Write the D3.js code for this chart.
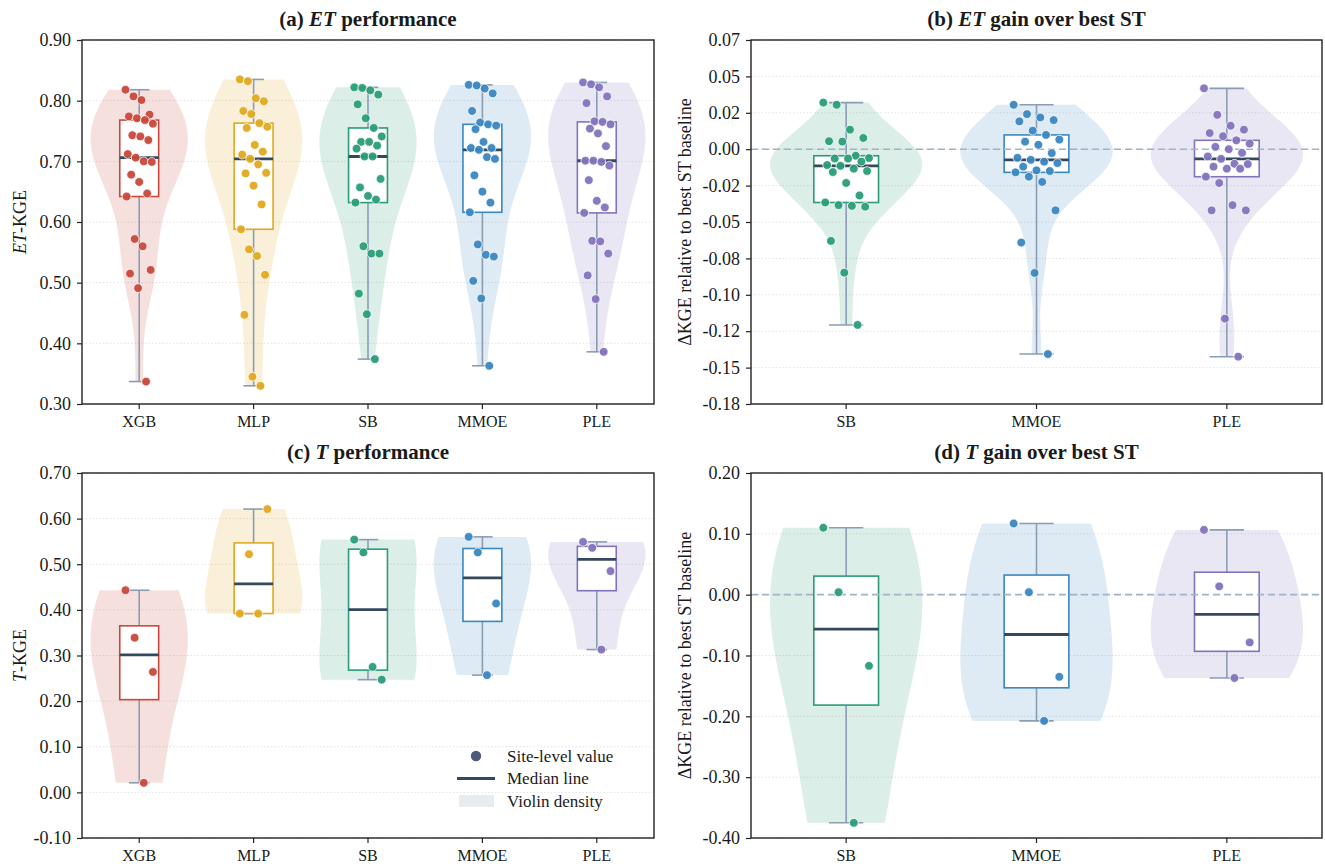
<!DOCTYPE html>
<html>
<head>
<meta charset="utf-8">
<title>ET / T KGE violins</title>
<style>
  body { margin: 0; background: #fff; }
  text { font-family: "Liberation Serif", "Times New Roman", serif; fill: #1a1a1a; }
</style>
</head>
<body>
<script src="https://cdn.jsdelivr.net/npm/d3@7"></script>
<script>
// ---------- data ----------
var models5 = ["XGB", "MLP", "SB", "MMOE", "PLE"];
var models3 = ["SB", "MMOE", "PLE"];
var modelColors = {XGB: "#c9483b", MLP: "#e1a91f", SB: "#2a9d78", MMOE: "#3a87c1", PLE: "#8373bd"};

// (a) ET-KGE, site-level
var etKgeXGB  = [0.818, 0.807, 0.801, 0.777, 0.774, 0.771, 0.768, 0.762, 0.743, 0.741, 0.735, 0.712, 0.706, 0.700, 0.699, 0.678, 0.666, 0.647, 0.642, 0.572, 0.560, 0.521, 0.515, 0.491, 0.337];
var etKgeMLP  = [0.835, 0.832, 0.804, 0.799, 0.783, 0.778, 0.763, 0.757, 0.755, 0.727, 0.716, 0.711, 0.704, 0.695, 0.681, 0.680, 0.660, 0.629, 0.588, 0.555, 0.544, 0.513, 0.447, 0.345, 0.330];
var etKgeSB   = [0.822, 0.821, 0.817, 0.810, 0.794, 0.771, 0.755, 0.741, 0.732, 0.732, 0.726, 0.721, 0.708, 0.708, 0.671, 0.657, 0.643, 0.637, 0.632, 0.560, 0.548, 0.548, 0.482, 0.448, 0.374];
var etKgeMMOE = [0.826, 0.825, 0.820, 0.812, 0.783, 0.764, 0.761, 0.759, 0.753, 0.732, 0.722, 0.722, 0.719, 0.707, 0.704, 0.677, 0.650, 0.632, 0.616, 0.563, 0.546, 0.543, 0.503, 0.474, 0.363];
var etKgePLE  = [0.830, 0.827, 0.822, 0.807, 0.796, 0.766, 0.765, 0.761, 0.754, 0.746, 0.725, 0.701, 0.701, 0.699, 0.693, 0.669, 0.635, 0.624, 0.615, 0.569, 0.568, 0.548, 0.512, 0.473, 0.386];

// (b) ET gain over best ST
var etGainSB   = [0.0320, 0.0305, 0.0134, 0.0077, 0.0055, 0.0052, -0.0045, -0.0061, -0.0064, -0.0064, -0.0085, -0.0109, -0.0114, -0.0134, -0.0150, -0.0157, -0.0232, -0.0318, -0.0366, -0.0384, -0.0389, -0.0395, -0.0630, -0.0848, -0.1207];
var etGainMMOE = [0.0305, 0.0241, 0.0218, 0.0200, 0.0191, 0.0127, 0.0098, 0.0066, 0.0052, 0.0030, -0.0027, -0.0059, -0.0073, -0.0086, -0.0095, -0.0120, -0.0145, -0.0150, -0.0159, -0.0189, -0.0225, -0.0420, -0.0641, -0.0850, -0.1407];
var etGainPLE  = [0.0418, 0.0236, 0.0161, 0.0134, 0.0111, 0.0089, 0.0061, 0.0039, 0.0016, 0.0000, -0.0025, -0.0050, -0.0066, -0.0100, -0.0102, -0.0120, -0.0134, -0.0134, -0.0189, -0.0232, -0.0384, -0.0420, -0.0420, -0.1164, -0.1425];

// (c) T-KGE, site-level
var tKgeXGB  = [0.443, 0.264, 0.021, 0.339];
var tKgeMLP  = [0.392, 0.621, 0.392, 0.522];
var tKgeSB   = [0.554, 0.247, 0.275, 0.526];
var tKgeMMOE = [0.560, 0.414, 0.257, 0.526];
var tKgePLE  = [0.549, 0.485, 0.313, 0.536];

// (d) T gain over best ST
var tGainSB   = [0.110, -0.117, -0.375, 0.004];
var tGainMMOE = [0.117, -0.135, -0.2075, 0.004];
var tGainPLE  = [0.1065, -0.0785, -0.137, 0.0137];

// ticks
var etKgeTicks = [0.30, 0.40, 0.50, 0.60, 0.70, 0.80, 0.90];
var etKgeTickLabels = ["0.30", "0.40", "0.50", "0.60", "0.70", "0.80", "0.90"];
var etGainTicks = [-0.175, -0.15, -0.125, -0.10, -0.075, -0.05, -0.025, 0, 0.025, 0.05, 0.075];
var etGainTickLabels = ["-0.18", "-0.15", "-0.12", "-0.10", "-0.08", "-0.05", "-0.02", "0.00", "0.02", "0.05", "0.07"];
var tKgeTicks = [-0.10, 0.00, 0.10, 0.20, 0.30, 0.40, 0.50, 0.60, 0.70];
var tKgeTickLabels = ["-0.10", "0.00", "0.10", "0.20", "0.30", "0.40", "0.50", "0.60", "0.70"];
var tGainTicks = [-0.40, -0.30, -0.20, -0.10, 0.00, 0.10, 0.20];
var tGainTickLabels = ["-0.40", "-0.30", "-0.20", "-0.10", "0.00", "0.10", "0.20"];

var gainLabel = [["\u0394KGE relative to best ST baseline", false]];

var panels = [
	{title: [["(a) ", false], ["ET", true], [" performance", false]], ylab: [["ET", true], ["-KGE", false]],
	 left: 82, right: 654, top: 40, bottom: 404, cats: models5,
	 series: [etKgeXGB, etKgeMLP, etKgeSB, etKgeMMOE, etKgePLE],
	 ticks: etKgeTicks, tickLabels: etKgeTickLabels, zero: false, vw: 0.85, ylx: 26},
	{title: [["(b) ", false], ["ET", true], [" gain over best ST", false]], ylab: gainLabel,
	 left: 751, right: 1322, top: 40, bottom: 404, cats: models3,
	 series: [etGainSB, etGainMMOE, etGainPLE],
	 ticks: etGainTicks, tickLabels: etGainTickLabels, zero: true, vw: 0.8, ylx: 691},
	{title: [["(c) ", false], ["T", true], [" performance", false]], ylab: [["T", true], ["-KGE", false]],
	 left: 82, right: 654, top: 473, bottom: 838, cats: models5,
	 series: [tKgeXGB, tKgeMLP, tKgeSB, tKgeMMOE, tKgePLE],
	 ticks: tKgeTicks, tickLabels: tKgeTickLabels, zero: false, vw: 0.85, ylx: 26, legend: true},
	{title: [["(d) ", false], ["T", true], [" gain over best ST", false]], ylab: gainLabel,
	 left: 751, right: 1322, top: 473, bottom: 838, cats: models3,
	 series: [tGainSB, tGainMMOE, tGainPLE],
	 ticks: tGainTicks, tickLabels: tGainTickLabels, zero: true, vw: 0.8, ylx: 691}
];

// ---------- helpers ----------
function kde(values, n) {
	var sd = d3.deviation(values);
	var bw = sd * Math.pow(values.length, -0.2); // scott
	var ext = d3.extent(values);
	return d3.range(n).map(function(i) {
		var v = ext[0] + (ext[1] - ext[0]) * i / (n - 1);
		return [v, d3.sum(values, function(s) { return Math.exp(-0.5 * Math.pow((v - s) / bw, 2)); })];
	});
}

function rich(sel, parts) {
	parts.forEach(function(p) {
		sel.append("tspan").attr("font-style", p[1] ? "italic" : null).text(p[0]);
	});
}

var svg = d3.select("body").append("svg").attr("width", 1325).attr("height", 866);

var whiskerColor = "#8a9db3";
var medianColor = "#34495e";

panels.forEach(function(p) {
	var g = svg.append("g");
	var x = d3.scaleBand().domain(p.cats).range([p.left, p.right]);
	var y = d3.scaleLinear().domain(d3.extent(p.ticks)).range([p.bottom, p.top]);
	var bw = x.bandwidth();

	// grid
	g.selectAll("line.grid").data(p.ticks).enter().append("line")
		.attr("class", "grid")
		.attr("x1", p.left).attr("x2", p.right)
		.attr("y1", function(d) { return y(d); }).attr("y2", function(d) { return y(d); })
		.attr("stroke", "#dadada").attr("stroke-width", 0.8).attr("stroke-dasharray", "1.5,2");

	var layers = {violin: g.append("g"), whisk: g.append("g"), box: g.append("g"), zero: g.append("g"), pts: g.append("g")};

	p.cats.forEach(function(c, k) {
		var vals = p.series[k];
		var col = modelColors[c];
		var cx = x(c) + bw / 2;
		var s = vals.slice().sort(d3.ascending);
		var q1 = d3.quantileSorted(s, 0.25), med = d3.quantileSorted(s, 0.5), q3 = d3.quantileSorted(s, 0.75);
		var lo = s[0], hi = s[s.length - 1];

		// violin
		var dens = kde(vals, 100);
		var maxD = d3.max(dens, function(d) { return d[1]; });
		var half = p.vw * bw / 2;
		var area = d3.area()
			.y(function(d) { return y(d[0]); })
			.x0(function(d) { return cx - d[1] / maxD * half; })
			.x1(function(d) { return cx + d[1] / maxD * half; });
		layers.violin.append("path").datum(dens).attr("d", area)
			.attr("fill", col).attr("fill-opacity", 0.17);

		// whiskers + caps
		var capW = 0.18 * bw;
		layers.whisk.append("line").attr("x1", cx).attr("x2", cx).attr("y1", y(lo)).attr("y2", y(hi))
			.attr("stroke", whiskerColor).attr("stroke-width", 1.6);
		[lo, hi].forEach(function(v) {
			layers.whisk.append("line").attr("x1", cx - capW / 2).attr("x2", cx + capW / 2)
				.attr("y1", y(v)).attr("y2", y(v))
				.attr("stroke", whiskerColor).attr("stroke-width", 1.6);
		});

		// box
		var boxW = 0.34 * bw;
		layers.box.append("rect").attr("x", cx - boxW / 2).attr("width", boxW)
			.attr("y", y(q3)).attr("height", y(q1) - y(q3))
			.attr("fill", "#fff").attr("stroke", col).attr("stroke-width", 1.6);
		layers.box.append("line").attr("x1", cx - boxW / 2).attr("x2", cx + boxW / 2)
			.attr("y1", y(med)).attr("y2", y(med))
			.attr("stroke", medianColor).attr("stroke-width", 2.8);

		// site points, fixed strip offsets
		var n = vals.length;
		var offs = d3.range(n).map(function(i) { return n > 1 ? -0.12 + 0.24 * i / (n - 1) : 0; });
		layers.pts.selectAll(null).data(vals).enter().append("circle")
			.attr("cx", function(d, i) { return cx + offs[(i * 7) % n] * bw; })
			.attr("cy", function(d) { return y(d); })
			.attr("r", 4.4)
			.attr("fill", col).attr("fill-opacity", 0.95)
			.attr("stroke", "#fff").attr("stroke-width", 0.8);
	});

	if (p.zero) {
		layers.zero.append("line").attr("x1", p.left).attr("x2", p.right)
			.attr("y1", y(0)).attr("y2", y(0))
			.attr("stroke", "#9fb3ca").attr("stroke-width", 1.6).attr("stroke-dasharray", "7,4");
	}

	// axes
	var yAxis = d3.axisLeft(y).tickValues(p.ticks)
		.tickFormat(function(d, i) { return p.tickLabels[i]; }).tickSize(5).tickSizeOuter(0);
	var ya = g.append("g").attr("transform", "translate(" + p.left + ",0)").call(yAxis);
	var xa = g.append("g").attr("transform", "translate(0," + p.bottom + ")")
		.call(d3.axisBottom(x).tickSize(5).tickSizeOuter(0));
	[ya, xa].forEach(function(a) {
		a.select(".domain").remove();
		a.selectAll(".tick line").attr("stroke", "#222").attr("stroke-width", 1.2);
		a.selectAll(".tick text").attr("font-family", "Liberation Serif").attr("fill", "#1a1a1a");
	});
	ya.selectAll(".tick text").attr("x", -11).attr("font-size", 18);
	xa.selectAll(".tick text").attr("y", 12).attr("font-size", 16);

	// frame
	g.append("rect").attr("x", p.left).attr("y", p.top)
		.attr("width", p.right - p.left).attr("height", p.bottom - p.top)
		.attr("fill", "none").attr("stroke", "#222").attr("stroke-width", 1.4);

	// title
	var t = g.append("text").attr("x", (p.left + p.right) / 2).attr("y", p.top - 14)
		.attr("text-anchor", "middle").attr("font-size", 21).attr("font-weight", "bold");
	rich(t, p.title);

	// y label
	var yl = g.append("text")
		.attr("transform", "translate(" + p.ylx + "," + (p.top + p.bottom) / 2 + ") rotate(-90)")
		.attr("text-anchor", "middle").attr("font-size", 18);
	rich(yl, p.ylab);

	if (p.legend) {
		var lg = g.append("g").attr("transform", "translate(" + (p.right - 197) + "," + (p.bottom - 82) + ")");
		lg.append("circle").attr("cx", 19).attr("cy", 0).attr("r", 5.2).attr("fill", "#4b5b79");
		lg.append("line").attr("x1", 0).attr("x2", 38).attr("y1", 22.5).attr("y2", 22.5)
			.attr("stroke", medianColor).attr("stroke-width", 3);
		lg.append("rect").attr("x", 2).attr("y", 39).attr("width", 35).attr("height", 12).attr("fill", "#e7ecf1");
		var items = ["Site-level value", "Median line", "Violin density"];
		lg.selectAll("text.lg").data(items).enter().append("text")
			.attr("x", 50).attr("y", function(d, i) { return i * 22.5; }).attr("dy", "0.35em")
			.attr("font-size", 17).text(function(d) { return d; });
	}
});
</script>
</body>
</html>
